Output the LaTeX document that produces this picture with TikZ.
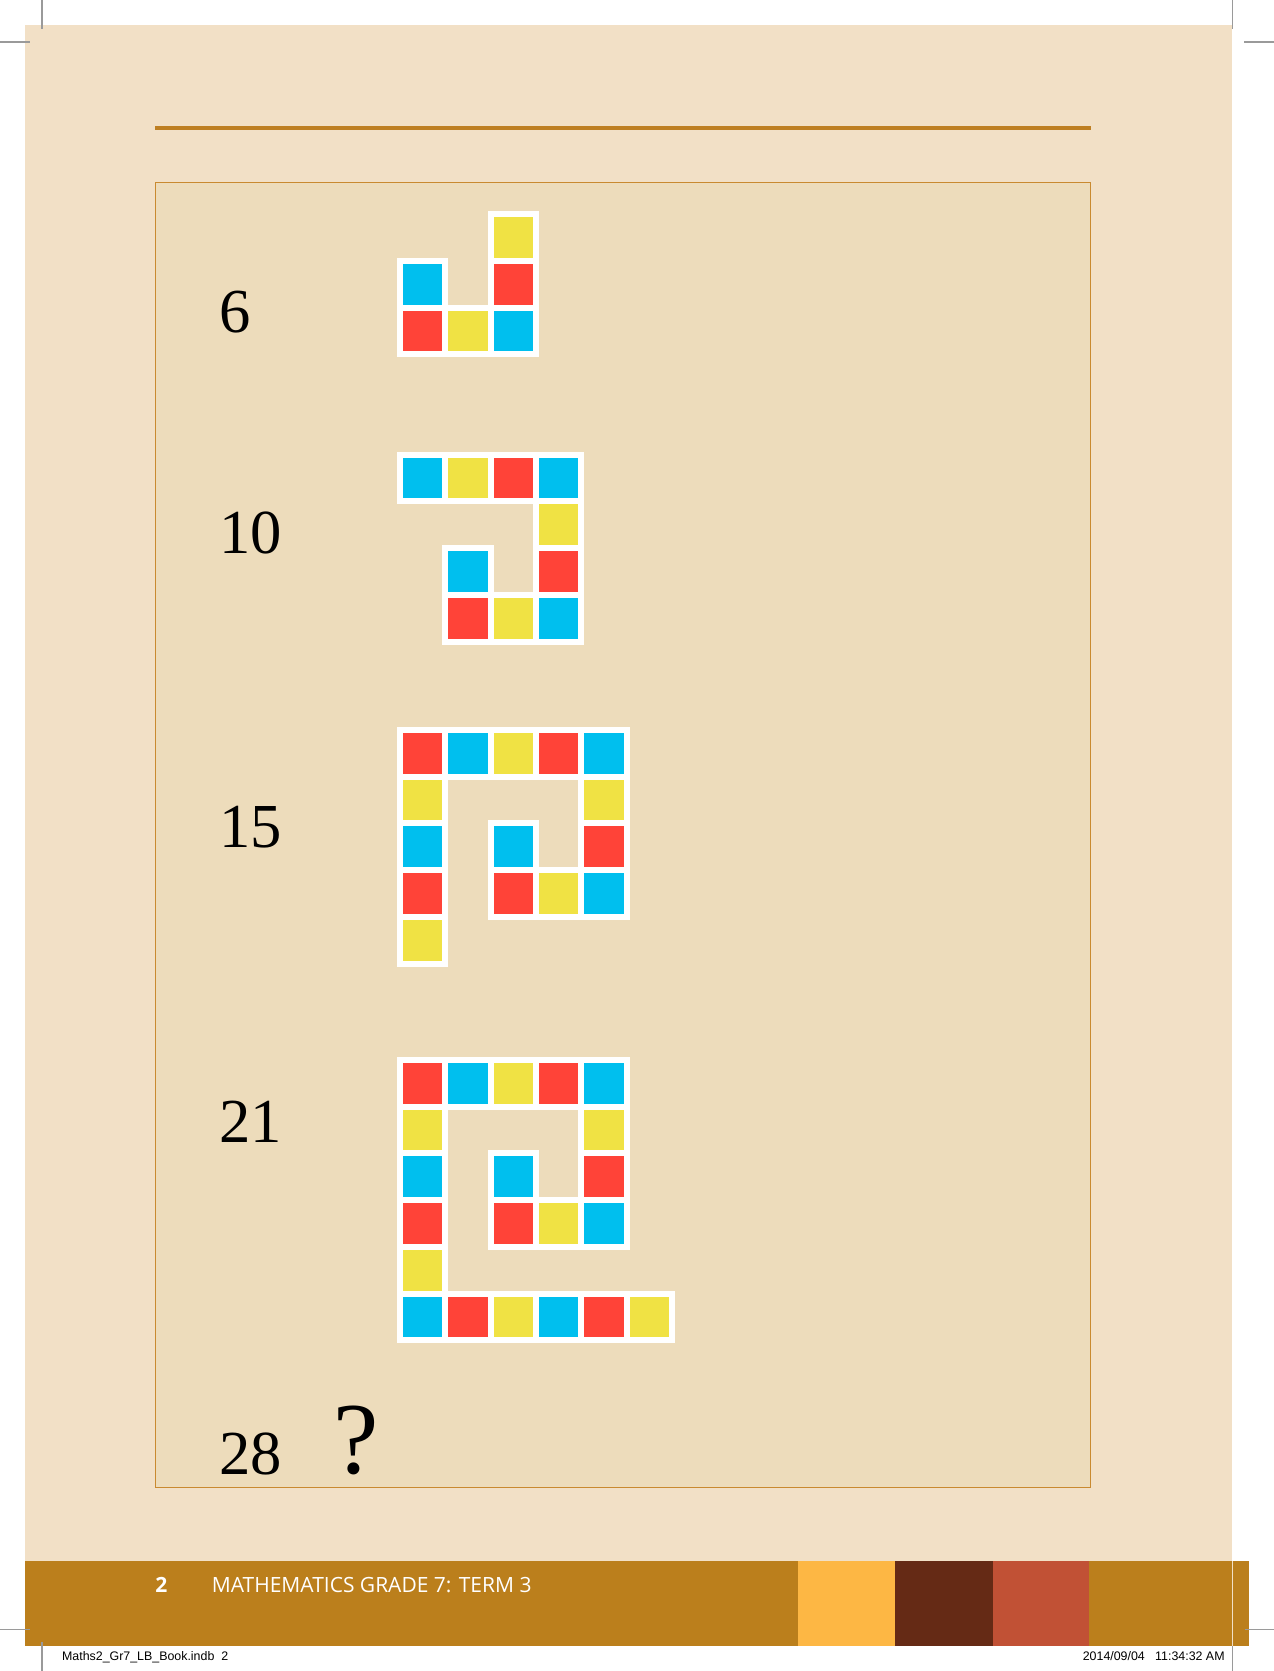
\documentclass[tikz,border=0pt]{standalone}
\usepackage{fontspec}
\newfontfamily\numfont{Liberation Serif}
\newfontfamily\footfont{Open Sans}
\newfontfamily\slugfont{Liberation Sans}
\definecolor{pagebg}{HTML}{F2E0C6}
\definecolor{boxbg}{HTML}{EDDCBB}
\definecolor{boxline}{HTML}{C98A30}
\definecolor{rulecol}{HTML}{BE7F22}
\definecolor{footgold}{HTML}{BB7F1C}
\definecolor{blkyel}{HTML}{FDB744}
\definecolor{blkbrn}{HTML}{652A15}
\definecolor{blkred}{HTML}{C15135}
\definecolor{tr}{HTML}{FF4338}
\definecolor{tb}{HTML}{00BFEE}
\definecolor{ty}{HTML}{F0E244}
\definecolor{cropgray}{HTML}{9A9A9A}
\newcommand\tilefig[3]{%
  \foreach \c/\r/\k in {#3} {\fill[white] (#1+\c*45.4-6, #2+\r*46.7-6) rectangle ++(51.5,52.7);}
  \foreach \c/\r/\k in {#3} {\fill[\k] (#1+\c*45.4, #2+\r*46.7) rectangle ++(39.5,40.7);}
}
\tikzset{
  numlabel/.style={anchor=base west, inner sep=0pt, font=\numfont\fontsize{31.3}{36}\selectfont},
  cropmark/.style={draw=cropgray, line width=0.8pt},
  foottext/.style={anchor=base west, inner sep=0pt, text=white, font=\footfont\fontsize{10.5}{12}\selectfont},
  slugtext/.style={inner sep=0pt, font=\slugfont\fontsize{6.2}{8}\selectfont}
}
\begin{document}
\begin{tikzpicture}[x=0.5pt,y=-0.5pt]
\useasboundingbox (0,0) rectangle (1274,1671);
\fill[white] (0,0) rectangle (1274,1671);
% page
\fill[pagebg] (25,25) rectangle (1231.7,1561);
% rule
\fill[rulecol] (155,125.7) rectangle (1090.6,129.7);
% inner box
\filldraw[fill=boxbg, draw=boxline, line width=0.5pt] (155,182.7) rectangle (1090.6,1487);
% figures
\tilefig{402.7}{217.3}{2/0/ty, 0/1/tb, 2/1/tr, 0/2/tr, 1/2/ty, 2/2/tb}
\tilefig{402.7}{457.7}{0/0/tb, 1/0/ty, 2/0/tr, 3/0/tb, 3/1/ty, 1/2/tb, 3/2/tr, 1/3/tr, 2/3/ty, 3/3/tb}
\tilefig{402.7}{733}{0/0/tr, 1/0/tb, 2/0/ty, 3/0/tr, 4/0/tb, 0/1/ty, 4/1/ty, 0/2/tb, 2/2/tb, 4/2/tr, 0/3/tr, 2/3/tr, 3/3/ty, 4/3/tb, 0/4/ty}
\tilefig{402.7}{1063}{0/0/tr, 1/0/tb, 2/0/ty, 3/0/tr, 4/0/tb, 0/1/ty, 4/1/ty, 0/2/tb, 2/2/tb, 4/2/tr, 0/3/tr, 2/3/tr, 3/3/ty, 4/3/tb, 0/4/ty, 0/5/tb, 1/5/tr, 2/5/ty, 3/5/tb, 4/5/tr, 5/5/ty}
% labels
\node[numlabel] (n6) at (219,332.6) {6};
\node[numlabel] (n10) at (219,553) {10};
\node[numlabel] (n15) at (219,847.5) {15};
\node[numlabel] (n21) at (219,1142) {21};
\node[numlabel] (n28) at (219,1474.5) {28};
\node[anchor=base west, inner sep=0pt, font=\numfont\fontsize{51}{56}\selectfont] (q) at (333,1473) {?};
% footer
\fill[footgold] (25,1561) rectangle (1249.3,1646);
\fill[blkyel] (798.3,1561) rectangle (895.3,1646);
\fill[blkbrn] (895.3,1561) rectangle (993.3,1646);
\fill[blkred] (993.3,1561) rectangle (1089.3,1646);
\draw[pagebg, line width=0.4pt] (1232.3,1561) -- (1232.3,1646);
\node[foottext, font=\footfont\bfseries\fontsize{10.5}{12}\selectfont] (pg) at (155,1592.3) {2};
\node[foottext] (title) at (211.5,1592.3) {MATHEMATICS GRADE 7: TERM 3};
% slug
\node[slugtext, anchor=base west] (slugl) at (61.7,1660) {Maths2\_Gr7\_LB\_Book.indb\ \ 2};
\node[slugtext, anchor=base east] (slugr) at (1225,1660) {2014/09/04\ \ \ 11:34:32 AM};
% crop marks
\draw[cropmark] (41.7,0) -- (41.7,29);
\draw[cropmark] (0,41.7) -- (30,41.7);
\draw[cropmark] (1232.5,0) -- (1232.5,29);
\draw[cropmark] (1244,41.7) -- (1274,41.7);
\draw[cropmark] (0,1629.3) -- (30,1629.3);
\draw[cropmark] (41.7,1641.7) -- (41.7,1671);
\draw[cropmark] (1245,1629.3) -- (1274,1629.3);
\draw[cropmark] (1232.3,1646) -- (1232.3,1671);
\end{tikzpicture}
\end{document}
